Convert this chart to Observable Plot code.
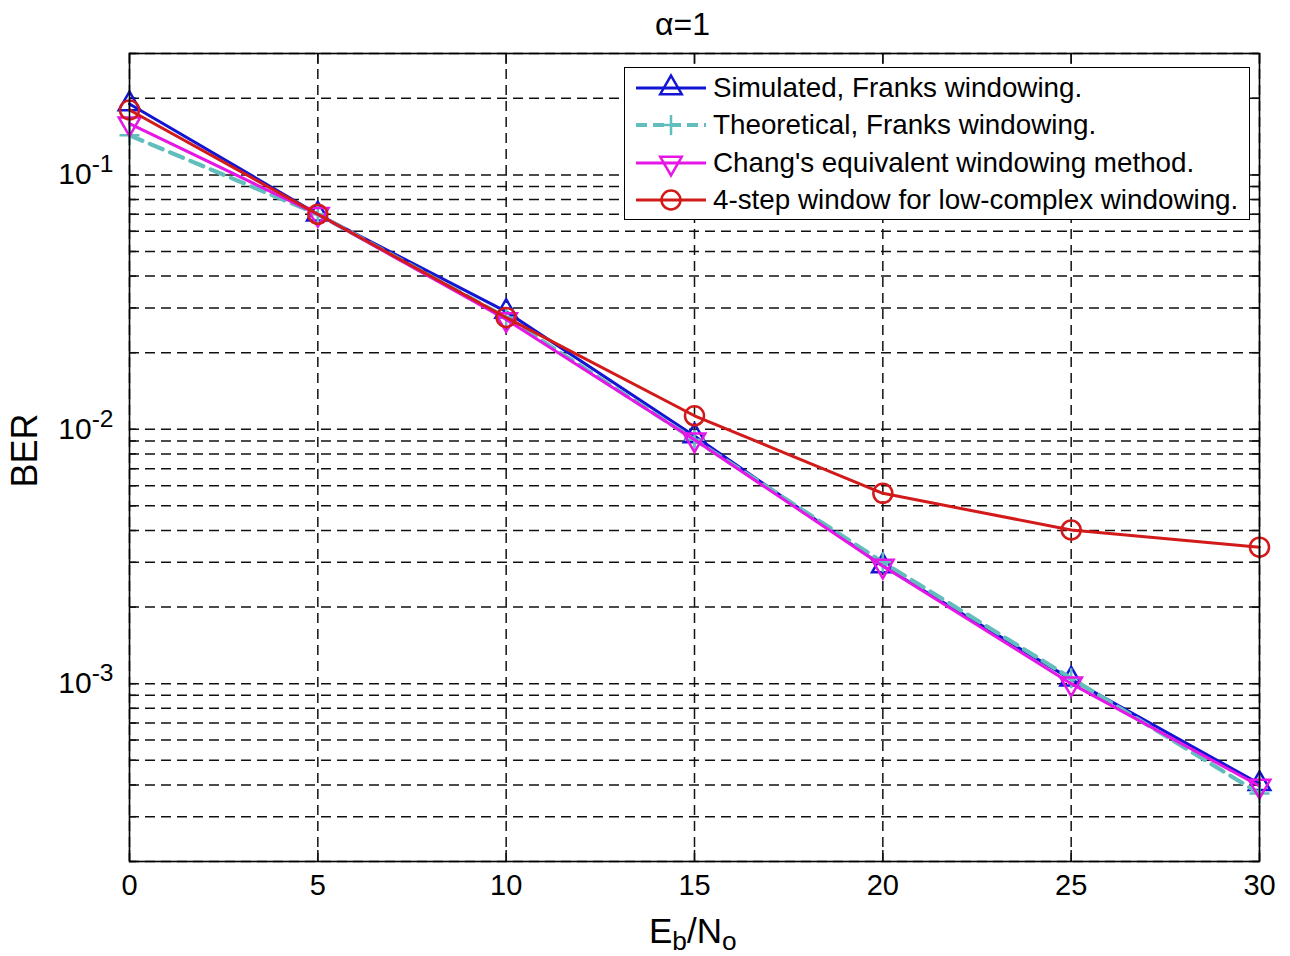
<!DOCTYPE html>
<html>
<head>
<meta charset="utf-8">
<script src="https://cdn.jsdelivr.net/npm/d3@7"></script>
<script src="https://cdn.jsdelivr.net/npm/@observablehq/plot@0.6"></script>
<style>
  body { margin: 0; background: #fff; font-family: "Liberation Sans", Arial, sans-serif; }
  #wrap { position: relative; width: 1290px; height: 956px; overflow: hidden; }
  #title { position: absolute; left: 655px; top: 8px; font-size: 32px; line-height: 32px; color: #000; white-space: nowrap; }
  #xlabel { position: absolute; left: 649px; top: 913px; font-size: 35px; line-height: 35px; color: #000; white-space: nowrap; }
  #xlabel sub { font-size: 0.75em; vertical-align: -0.28em; line-height: 0; }
  #legend { position: absolute; left: 624px; top: 67px; width: 626px; height: 153px; box-sizing: border-box;
            border: 1.5px solid #000; background: #fff; padding-top: 1px; overflow: visible; }
  .row { height: 37.5px; display: flex; align-items: center; white-space: nowrap; font-size: 27.8px; color: #000; }
  .row svg { flex: none; margin-right: 6px; }
</style>
</head>
<body>
<div id="wrap">
  <div id="chart"></div>
  <div id="title">α=1</div>
  <div id="xlabel">E<sub>b</sub>/N<sub>o</sub></div>
  <div id="legend"></div>
</div>
<script>
// ---- data ----
const snr = [0, 5, 10, 15, 20, 25, 30];
const berSimulated = [0.19, 0.070, 0.029, 0.0094, 0.0029, 0.00104, 0.000404];
const berTheoretical = [0.143, 0.070, 0.0275, 0.0091, 0.0030, 0.00105, 0.00037];
const berChang = [0.159, 0.070, 0.027, 0.0091, 0.0029, 0.0010, 0.000396];
const berFourStep = [0.18, 0.070, 0.0275, 0.0113, 0.0056, 0.00402, 0.00344];
const seriesNames = [
  "Simulated, Franks windowing.",
  "Theoretical, Franks windowing.",
  "Chang's equivalent windowing method.",
  "4-step window for low-complex windowing."
];
const xTicks = [0, 5, 10, 15, 20, 25, 30];
const yMajorTicks = [1e-3, 1e-2, 1e-1];
const yGridMantissas = [1, 2, 3, 4, 5, 6, 7, 8, 9];
const yGridExponents = [-4, -3, -2, -1];

// ---- styles ----
const triangleDown = {
  draw(context, size) {
    const y = -Math.sqrt(size / (Math.sqrt(3) * 3));
    context.moveTo(0, -y * 2);
    context.lineTo(-Math.sqrt(3) * y, y);
    context.lineTo(Math.sqrt(3) * y, y);
    context.closePath();
  }
};
const styles = [
  { color: "#1414d4", symbol: "triangle", d3sym: d3.symbolTriangle, r: 8, width: 3, dash: null },
  { color: "#62bebc", symbol: "plus", d3sym: d3.symbolPlus, r: 6.5, width: 4.2, dash: "14,8" },
  { color: "#e616e6", symbol: triangleDown, d3sym: triangleDown, r: 8, width: 3, dash: null },
  { color: "#d21a1a", symbol: "circle", d3sym: d3.symbolCircle, r: 9.5, width: 3, dash: null }
];
const seriesValues = [berSimulated, berTheoretical, berChang, berFourStep];

const domainY = [2e-4, 0.3];
const yGrid = yGridExponents.flatMap(e => yGridMantissas.map(m => m * Math.pow(10, e)))
  .filter(v => v >= domainY[0] * 0.999 && v <= domainY[1] * 1.001);

const W = 1290, H = 956;
const mTop = 53, mRight = 31, mBottom = 95, mLeft = 129;
const plotW = W - mLeft - mRight, plotH = H - mTop - mBottom;

const grid = { stroke: "#111", strokeWidth: 1.5, strokeDasharray: "10,6" };
const tickStyle = { stroke: "#111", strokeWidth: 1.5 };

const marks = [
  Plot.ruleX(xTicks, grid),
  Plot.ruleY(yGrid, grid),
  Plot.ruleX(xTicks, { ...tickStyle, insetTop: plotH - 11 }),
  Plot.ruleX(xTicks, { ...tickStyle, insetBottom: plotH - 11 }),
  Plot.ruleY(yGrid, { ...tickStyle, insetRight: plotW - 7 }),
  Plot.ruleY(yGrid, { ...tickStyle, insetLeft: plotW - 7 })
];
seriesValues.forEach((vals, i) => {
  const st = styles[i];
  const rows = snr.map((x, j) => ({ x, y: vals[j] }));
  marks.push(Plot.line(rows, { x: "x", y: "y", stroke: st.color, strokeWidth: st.width, strokeDasharray: st.dash }));
  marks.push(Plot.dot(rows, { x: "x", y: "y", symbol: st.symbol, r: st.r, stroke: st.color, fill: "none", strokeWidth: 2.5 }));
});
marks.push(
  Plot.frame({ stroke: "#000", strokeWidth: 1.6 }),
  Plot.axisX(xTicks, { tickSize: 0, tickPadding: 13, fontSize: 29, label: null }),
  Plot.axisY(yMajorTicks, {
    tickSize: 0, tickPadding: 16, fontSize: 30, label: null,
    tickFormat: d => "10^" + Math.round(Math.log10(d))
  }),
  Plot.text(["BER"], { frameAnchor: "left", textAnchor: "middle", lineAnchor: "middle", dx: -104, dy: -7, rotate: -90, fontSize: 36, fill: "#000" })
);

const svg = Plot.plot({
  width: W, height: H,
  marginTop: mTop, marginRight: mRight, marginBottom: mBottom, marginLeft: mLeft,
  style: { fontFamily: '"Liberation Sans", Arial, sans-serif', color: "#000", background: "#fff", overflow: "visible" },
  x: { domain: [0, 30] },
  y: { type: "log", domain: domainY },
  marks
});
document.getElementById("chart").appendChild(svg);

// superscript exponents on y tick labels
d3.select(svg).selectAll('g[aria-label="y-axis tick label"] text').each(function () {
  const t = d3.select(this);
  const parts = t.text().split("^");
  if (parts.length !== 2) return;
  t.text(null);
  t.append("tspan").text(parts[0]);
  t.append("tspan").attr("dy", "-0.5em").attr("font-size", "0.82em").text(parts[1]);
});

// legend
const legend = d3.select("#legend");
seriesNames.forEach((name, i) => {
  const st = styles[i];
  const row = legend.append("div").attr("class", "row");
  const s = row.append("svg").attr("width", 82).attr("height", 30);
  s.append("line").attr("x1", 11).attr("x2", 81).attr("y1", 15).attr("y2", 15)
    .attr("stroke", st.color).attr("stroke-width", st.width)
    .attr("stroke-dasharray", st.dash ? "11,6" : null);
  s.append("path").attr("d", d3.symbol(st.d3sym, Math.PI * st.r * st.r)())
    .attr("transform", "translate(46,15)")
    .attr("fill", "none").attr("stroke", st.color).attr("stroke-width", 2.5);
  row.append("span").text(name);
});
</script>
</body>
</html>
